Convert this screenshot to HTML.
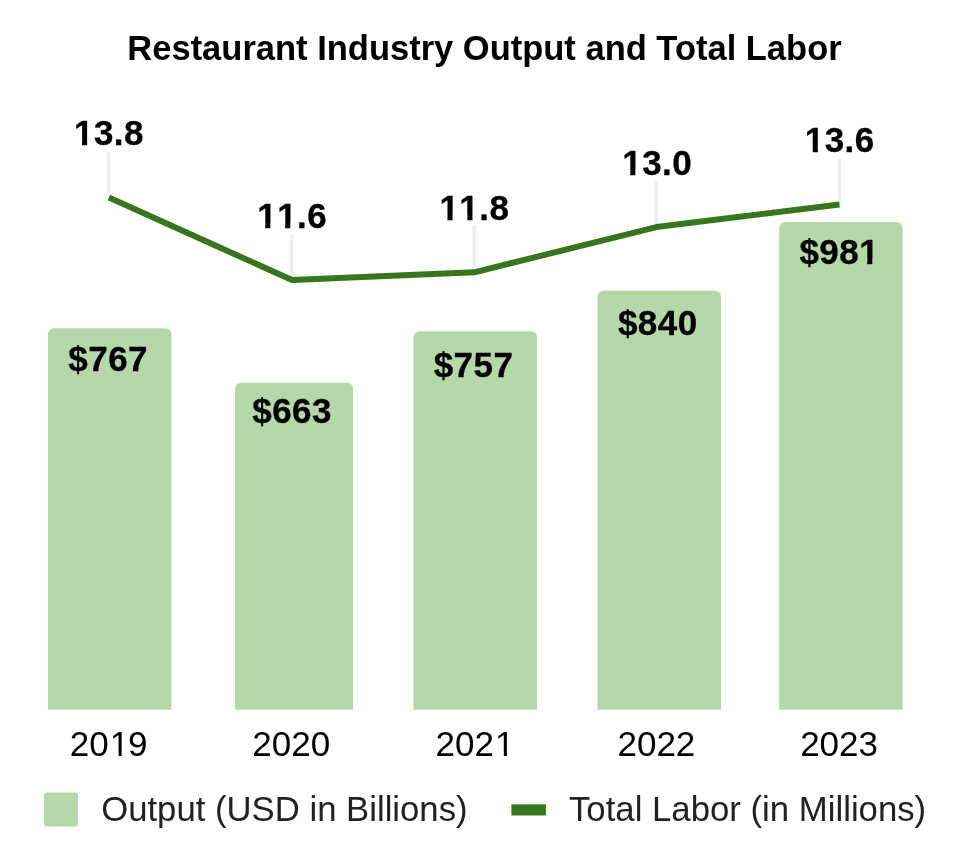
<!DOCTYPE html>
<html lang="en">
<head>
<meta charset="utf-8">
<title>Restaurant Industry Output and Total Labor</title>
<style>
  html, body { margin: 0; padding: 0; background: #ffffff; }
  body { width: 959px; height: 863px; overflow: hidden; }
  svg { display: block; }
  text { font-family: "Liberation Sans", sans-serif; }
  .title { font-weight: 700; font-size: 34.5px; fill: #000000; }
  .dl { font-weight: 700; font-size: 35.0px; fill: #000000; font-kerning: none; letter-spacing: 0.45px; stroke: #000000; stroke-width: 0.3px; stroke-linejoin: round; }
  .ax { font-size: 35.0px; fill: #000000; font-kerning: none; }
  .lg { font-size: 34.2px; fill: #222222; }
</style>
</head>
<body>
<svg width="959" height="863" viewBox="0 0 959 863" role="img" aria-label="Restaurant Industry Output and Total Labor">
  <rect x="0" y="0" width="959" height="863" fill="#ffffff"/>

  <!-- chart title -->
  <text class="title" x="484.5" y="59.5" text-anchor="middle">Restaurant Industry Output and Total Labor</text>

  <!-- bars: Output (USD in Billions) -->
  <g fill="#b6d7a8">
    <path d="M48.0 709.8 V334.3 a6 6 0 0 1 6 -6 H165.5 a6 6 0 0 1 6 6 V709.8 Z"/>
    <path d="M235.0 709.8 V388.7 a6 6 0 0 1 6 -6 H347.0 a6 6 0 0 1 6 6 V709.8 Z"/>
    <path d="M413.5 709.8 V337.2 a6 6 0 0 1 6 -6 H531.0 a6 6 0 0 1 6 6 V709.8 Z"/>
    <path d="M597.5 709.8 V296.7 a6 6 0 0 1 6 -6 H715.0 a6 6 0 0 1 6 6 V709.8 Z"/>
    <path d="M779.2 709.8 V228.0 a6 6 0 0 1 6 -6 H896.6 a6 6 0 0 1 6 6 V709.8 Z"/>
  </g>

  <!-- data label leader lines -->
  <g stroke="#eeeeee" stroke-width="3.6" fill="none">
    <line x1="108.7" y1="152.2" x2="108.7" y2="196.6"/>
    <line x1="291.8" y1="234.3" x2="291.8" y2="279.0"/>
    <line x1="474.2" y1="225.5" x2="474.2" y2="271.3"/>
    <line x1="656.2" y1="181.0" x2="656.2" y2="226.1"/>
    <line x1="839.3" y1="158.8" x2="839.3" y2="203.4"/>
  </g>

  <!-- line series: Total Labor (in Millions) -->
  <polyline points="108.9,197.6 292.0,280.0 474.4,272.3 656.4,227.1 839.5,204.4" fill="none" stroke="#38761d" stroke-width="6" stroke-linejoin="round" stroke-linecap="butt"/>

  <!-- line data labels -->
  <g class="dl" text-anchor="middle">
    <text x="109.0" y="145">13.8</text>
    <text x="292.2" y="228">11.6</text>
    <text x="474.4" y="220">11.8</text>
    <text x="657.2" y="175">13.0</text>
    <text x="839.7" y="152">13.6</text>
  </g>

  <!-- bar data labels -->
  <g class="dl" text-anchor="middle">
    <text x="108.2" y="371">$767</text>
    <text x="292.1" y="423">$663</text>
    <text x="473.5" y="377">$757</text>
    <text x="657.8" y="335">$840</text>
    <text x="839.3" y="264">$981</text>
  </g>

  <!-- category axis labels -->
  <g class="ax">
    <text x="69.67" y="756" dx="0 0 1.15 -1.15">2019</text>
    <text x="252.37" y="756">2020</text>
    <text x="435.47" y="756" dx="0 0 0 1.15">2021</text>
    <text x="617.47" y="756">2022</text>
    <text x="800.17" y="756">2023</text>
  </g>

  <!-- trims the base serif of the digit 1 -->
  <g shape-rendering="geometricPrecision">
    <rect x="75.09" y="140.38" width="6.96" height="5.62" fill="#ffffff"/>
    <rect x="87.16" y="140.38" width="6.47" height="5.62" fill="#ffffff"/>
    <rect x="258.29" y="223.38" width="6.96" height="5.62" fill="#ffffff"/>
    <rect x="270.36" y="223.38" width="6.47" height="5.62" fill="#ffffff"/>
    <rect x="278.21" y="223.38" width="6.96" height="5.62" fill="#ffffff"/>
    <rect x="290.28" y="223.38" width="6.47" height="5.62" fill="#ffffff"/>
    <rect x="440.49" y="215.38" width="6.96" height="5.62" fill="#ffffff"/>
    <rect x="452.56" y="215.38" width="6.47" height="5.62" fill="#ffffff"/>
    <rect x="460.41" y="215.38" width="6.96" height="5.62" fill="#ffffff"/>
    <rect x="472.48" y="215.38" width="6.47" height="5.62" fill="#ffffff"/>
    <rect x="623.29" y="170.38" width="6.96" height="5.62" fill="#ffffff"/>
    <rect x="635.36" y="170.38" width="6.47" height="5.62" fill="#ffffff"/>
    <rect x="805.79" y="147.38" width="6.96" height="5.62" fill="#ffffff"/>
    <rect x="817.86" y="147.38" width="6.47" height="5.62" fill="#ffffff"/>
    <rect x="860.27" y="259.38" width="6.96" height="5.62" fill="#b6d7a8"/>
    <rect x="872.34" y="259.38" width="6.47" height="5.62" fill="#b6d7a8"/>
    <rect x="111.42" y="752.49" width="7.14" height="4.51" fill="#ffffff"/>
    <rect x="121.64" y="752.49" width="6.81" height="4.51" fill="#ffffff"/>
    <rect x="496.68" y="752.49" width="7.14" height="4.51" fill="#ffffff"/>
    <rect x="506.91" y="752.49" width="6.81" height="4.51" fill="#ffffff"/>
  </g>

  <!-- legend -->
  <rect x="44" y="792.5" width="34" height="34" rx="3" ry="3" fill="#b6d7a8"/>
  <text class="lg" x="101.2" y="820.6" textLength="366.4" lengthAdjust="spacingAndGlyphs">Output (USD in Billions)</text>
  <rect x="511.4" y="804.3" width="34.5" height="11.2" fill="#38761d"/>
  <text class="lg" x="569" y="820.6" textLength="357.2" lengthAdjust="spacingAndGlyphs">Total Labor (in Millions)</text>
</svg>
</body>
</html>
